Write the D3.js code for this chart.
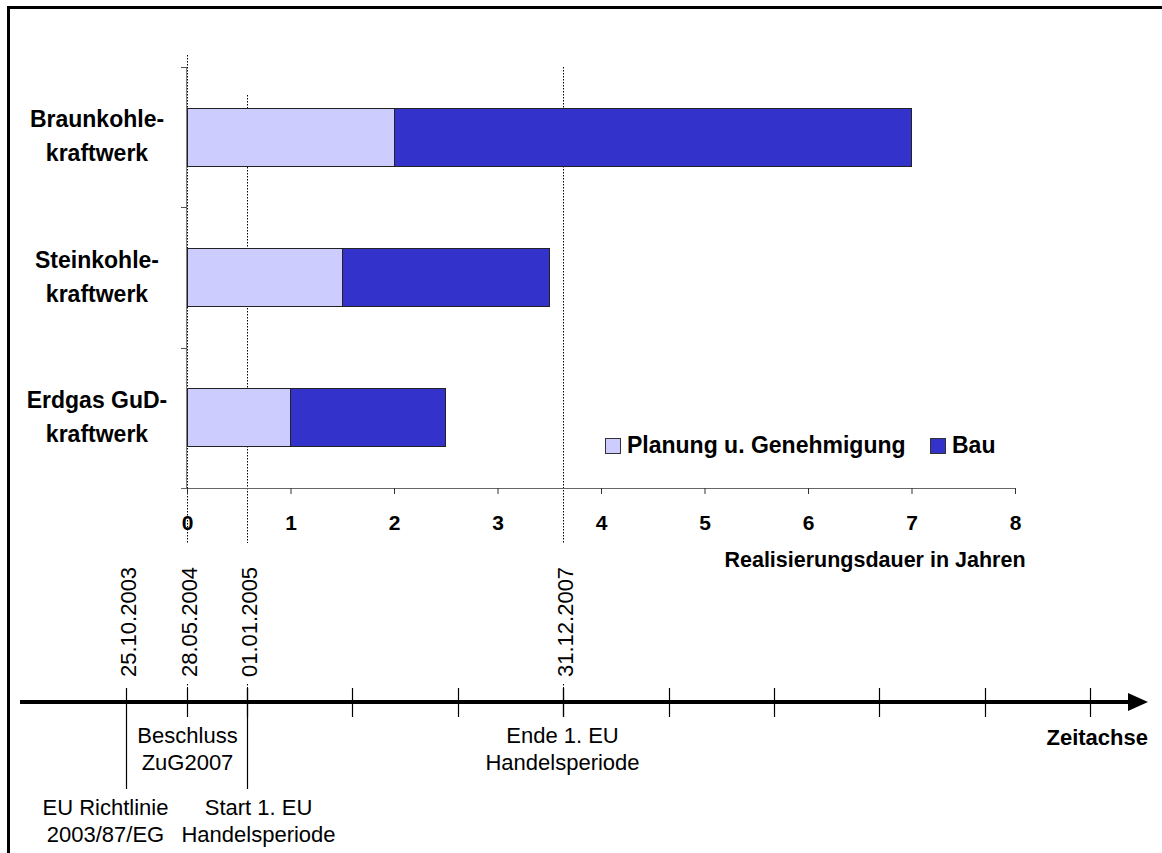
<!DOCTYPE html>
<html><head><meta charset="utf-8">
<script src="https://cdn.jsdelivr.net/npm/d3@7"></script>
<style>body{margin:0;background:#fff}svg{display:block}text{font-family:"Liberation Sans",Arial,sans-serif}</style>
</head><body>
<svg id="c" width="1162" height="853"></svg>
<script>
// ---- data ----
const categories = [["Braunkohle-","kraftwerk"],["Steinkohle-","kraftwerk"],["Erdgas GuD-","kraftwerk"]];
const categoryKeys = ["Braunkohle","Steinkohle","Erdgas"];
const planung = [2, 1.5, 1];
const bau = [5, 2, 1.5];
const seriesNames = ["Planung u. Genehmigung","Bau"];
const xTicks = [0,1,2,3,4,5,6,7,8];
const xTitle = "Realisierungsdauer in Jahren";
const events = [
  {date:"2003-10-25", label:"25.10.2003", text:["EU Richtlinie","2003/87/EG"]},
  {date:"2004-05-28", label:"28.05.2004", text:["Beschluss","ZuG2007"]},
  {date:"2005-01-01", label:"01.01.2005", text:["Start 1. EU","Handelsperiode"]},
  {date:"2007-12-31", label:"31.12.2007", text:["Ende 1. EU","Handelsperiode"]}
];
const timeTitle = "Zeitachse";
const colors = ["#CCCCFF","#3333CC"];

const svg = d3.select("#c");
const parse = d3.timeParse("%Y-%m-%d");

// frame (top & left)
svg.append("line").attr("x1",8).attr("x2",1162).attr("y1",7.5).attr("y2",7.5).attr("stroke","#000").attr("stroke-width",3);
svg.append("line").attr("x1",8.5).attr("x2",8.5).attr("y1",6).attr("y2",853).attr("stroke","#000").attr("stroke-width",3);

// scales
const x = d3.scaleLinear().domain([0,8]).range([187,1015]);
const y = d3.scaleBand().domain(categoryKeys).range([67,488]).paddingInner(0.587).paddingOuter(0.2935);
const t = d3.scaleTime()
  .domain([parse("2003-10-25"), parse("2004-05-28"), parse("2005-01-01"), parse("2008-01-01")])
  .range([126, 187, 247, 563]);

// dotted event lines (upper part)
const dotTop = {"28.05.2004":55, "01.01.2005":95, "31.12.2007":67};
events.forEach(e=>{
  if(dotTop[e.label]!==undefined){
    const xx = Math.round(t(parse(e.date)))+0.5;
    svg.append("line").attr("x1",xx).attr("x2",xx).attr("y1",dotTop[e.label]).attr("y2",543)
      .attr("stroke","#000").attr("stroke-width",1).attr("stroke-dasharray","1.5,1.5");
    svg.append("line").attr("x1",xx).attr("x2",xx).attr("y1",684).attr("y2",700)
      .attr("stroke","#000").attr("stroke-width",1).attr("stroke-dasharray","1.5,1.5");
  }
});

// y axis
const y0 = y.range()[0], step = y.step();
svg.append("line").attr("x1",186.5).attr("x2",186.5).attr("y1",67).attr("y2",488).attr("stroke","#808080");
for(let i=0;i<=categoryKeys.length;i++){
  const yy = Math.round(y0 + i*step)+0.5;
  svg.append("line").attr("x1",181).attr("x2",187).attr("y1",yy).attr("y2",yy).attr("stroke","#555");
}

// bars
const g = svg.append("g");
categoryKeys.forEach((k,i)=>{
  const vals=[planung[i], bau[i]];
  let acc=0;
  vals.forEach((v,j)=>{
    g.append("rect").attr("x",x(acc)).attr("y",y(k)).attr("width",x(acc+v)-x(acc)).attr("height",y.bandwidth())
      .attr("fill",colors[j]).attr("stroke","#222").attr("stroke-width",1).attr("shape-rendering","crispEdges");
    acc+=v;
  });
});

// category labels
categoryKeys.forEach((k,i)=>{
  const cy = y(k)+y.bandwidth()/2;
  const tx = svg.append("text").attr("text-anchor","middle").attr("font-weight","bold").attr("font-size",23);
  tx.append("tspan").attr("x",97).attr("y",cy-10).text(categories[i][0]);
  tx.append("tspan").attr("x",97).attr("y",cy+24).text(categories[i][1]);
});

// x axis
const xa = svg.append("g").attr("transform","translate(0,488)")
  .call(d3.axisBottom(x).tickValues(xTicks).tickSize(6).tickPadding(0).tickFormat(d3.format("d")));
xa.select(".domain").attr("d","M181,0.5H1015.5").attr("stroke","#666");
xa.selectAll(".tick line").attr("stroke","#333");
xa.selectAll(".tick text").attr("font-size",21).attr("font-weight","bold").attr("fill","#000")
  .attr("font-family","Liberation Sans, Arial, sans-serif").attr("dy",null).attr("y",42);
svg.append("text").attr("x",875).attr("y",567).attr("text-anchor","middle").attr("font-weight","bold").attr("font-size",21.5).text(xTitle);

// legend
const lg = svg.append("g");
const lx=[605,930];
seriesNames.forEach((n,j)=>{
  lg.append("rect").attr("x",lx[j]+0.5).attr("y",438.5).attr("width",15).attr("height",15)
    .attr("fill",colors[j]).attr("stroke","#333");
  lg.append("text").attr("x",lx[j]+22).attr("y",453).attr("font-weight","bold").attr("font-size",23).text(n);
});

// timeline
const tlY = 702;
svg.append("line").attr("x1",20).attr("x2",1130).attr("y1",tlY).attr("y2",tlY).attr("stroke","#000").attr("stroke-width",4);
svg.append("path").attr("d",`M1128,${tlY-9}L1148,${tlY}L1128,${tlY+9}Z`).attr("fill","#000");
const years = d3.timeYear.range(parse("2005-01-01"), parse("2014-01-01"));
years.forEach(d=>{
  const xx = Math.round(t(d))+0.5;
  svg.append("line").attr("x1",xx).attr("x2",xx).attr("y1",688).attr("y2",717).attr("stroke","#000").attr("stroke-width",1.2);
});
// event markers and texts
const longLine = {"25.10.2003":true, "01.01.2005":true};
const textX = {"25.10.2003":-21, "28.05.2004":0, "01.01.2005":11, "31.12.2007":-1};
const textY = {"25.10.2003":815, "28.05.2004":743, "01.01.2005":815, "31.12.2007":743};
events.forEach(e=>{
  const xx = Math.round(t(parse(e.date)))+0.5;
  svg.append("line").attr("x1",xx).attr("x2",xx).attr("y1",688).attr("y2",longLine[e.label]?789:717)
    .attr("stroke","#000").attr("stroke-width",1.2);
  svg.append("text").attr("transform",`translate(${xx+9},677) rotate(-90)`).attr("font-size",22).text(e.label);
  const tx = svg.append("text").attr("text-anchor","middle").attr("font-size",22);
  e.text.forEach((s,i)=>tx.append("tspan").attr("x",xx+textX[e.label]).attr("y",textY[e.label]+i*27).text(s));
});
svg.append("text").attr("x",1148).attr("y",745).attr("text-anchor","end").attr("font-weight","bold").attr("font-size",22).text(timeTitle);
</script>
</body></html>
